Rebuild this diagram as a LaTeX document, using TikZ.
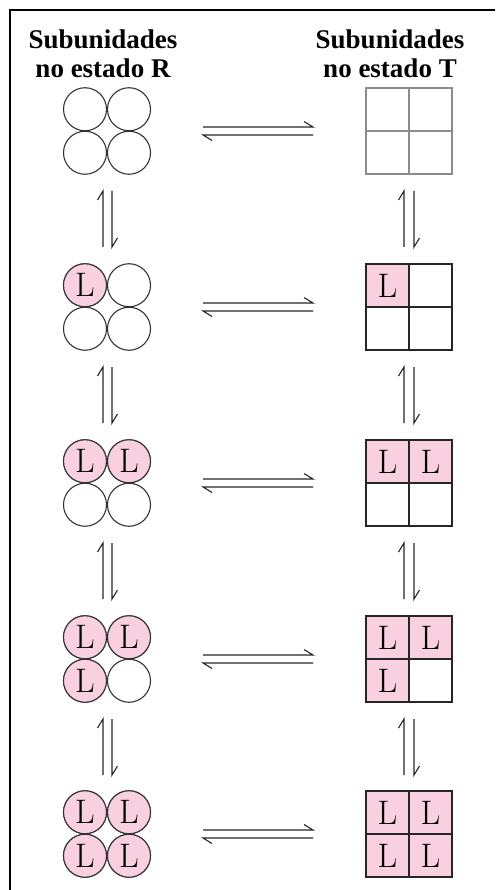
\documentclass[tikz,border=0pt]{standalone}
\usepackage{fontspec}
\newfontfamily\headfont{Liberation Serif}
\definecolor{lpink}{RGB}{249,208,224}
\begin{document}
\begin{tikzpicture}[x=1pt,y=-1pt,
  sub/.style={circle, draw=black!80, line width=1.1pt, minimum size=43pt, inner sep=0pt, font=\fontsize{34}{34}\selectfont},
  lig/.style={fill=lpink},
  cell/.style={rectangle, draw=black!85, line width=1.3pt, minimum size=43pt, inner sep=0pt, font=\fontsize{34}{34}\selectfont},
  graycell/.style={cell, draw=black!45},
  eqarrow/.style={line width=1.1pt, draw=black!85, line join=miter},
  head/.style={font=\headfont\bfseries\fontsize{27}{29}\selectfont, anchor=base}]
\useasboundingbox (0,0) rectangle (495,890);
\draw[line width=1.5pt] (10,890) -- (10,10) -- (495,10);
% headings
\node[head] (hL1) at (103,49) {Subunidades};
\node[head] (hL2) at (103,78) {no estado R};
\node[head] (hR1) at (390,49) {Subunidades};
\node[head] (hR2) at (390,78) {no estado T};
% rows
\foreach \r/\y in {1/131, 2/307, 3/483, 4/659, 5/834}{
  % circles (R state)
  \node[sub] (c\r a) at (85,\y-21.75) {};
  \node[sub] (c\r b) at (129,\y-21.75) {};
  \node[sub] (c\r c) at (85,\y+21.75) {};
  \node[sub] (c\r d) at (129,\y+21.75) {};
  % horizontal equilibrium
  \coordinate (h\r l1) at (203,\y-4);
  \coordinate (h\r r1) at (313,\y-4);
  \coordinate (h\r l2) at (203,\y+4);
  \coordinate (h\r r2) at (313,\y+4);
  \draw[eqarrow] (h\r l1) -- (h\r r1) -- ([shift={(-9,-5.5)}]h\r r1);
  \draw[eqarrow] (h\r r2) -- (h\r l2) -- ([shift={(9,5.5)}]h\r l2);
}
% ligand fills for circles
\foreach \n in {c2a, c3a, c3b, c4a, c4b, c4c, c5a, c5b, c5c, c5d}{
  \node[sub, lig] at (\n) {L};
}
% squares (T state)
\foreach \r/\y in {1/131, 2/307, 3/483, 4/659, 5/834}{
  \ifnum\r=1
    \node[graycell] (s\r a) at (387.5,\y-21.5) {};
    \node[graycell] (s\r b) at (430.5,\y-21.5) {};
    \node[graycell] (s\r c) at (387.5,\y+21.5) {};
    \node[graycell] (s\r d) at (430.5,\y+21.5) {};
  \else
    \node[cell] (s\r a) at (387.5,\y-21.5) {};
    \node[cell] (s\r b) at (430.5,\y-21.5) {};
    \node[cell] (s\r c) at (387.5,\y+21.5) {};
    \node[cell] (s\r d) at (430.5,\y+21.5) {};
  \fi
}
\foreach \n in {s2a, s3a, s3b, s4a, s4b, s4c, s5a, s5b, s5c, s5d}{
  \node[cell, lig] at (\n) {L};
}
% vertical equilibria
\foreach \k/\m in {1/219, 2/395, 3/571, 4/747}{
  \coordinate (vL\k t1) at (103,\m-28);
  \coordinate (vL\k b1) at (103,\m+28);
  \coordinate (vL\k t2) at (112,\m-28);
  \coordinate (vL\k b2) at (112,\m+28);
  \draw[eqarrow] (vL\k b1) -- (vL\k t1) -- ([shift={(-5.5,9)}]vL\k t1);
  \draw[eqarrow] (vL\k t2) -- (vL\k b2) -- ([shift={(5.5,-9)}]vL\k b2);
  \coordinate (vR\k t1) at (404,\m-28);
  \coordinate (vR\k b1) at (404,\m+28);
  \coordinate (vR\k t2) at (414,\m-28);
  \coordinate (vR\k b2) at (414,\m+28);
  \draw[eqarrow] (vR\k b1) -- (vR\k t1) -- ([shift={(-5.5,9)}]vR\k t1);
  \draw[eqarrow] (vR\k t2) -- (vR\k b2) -- ([shift={(5.5,-9)}]vR\k b2);
}
\end{tikzpicture}
\end{document}
